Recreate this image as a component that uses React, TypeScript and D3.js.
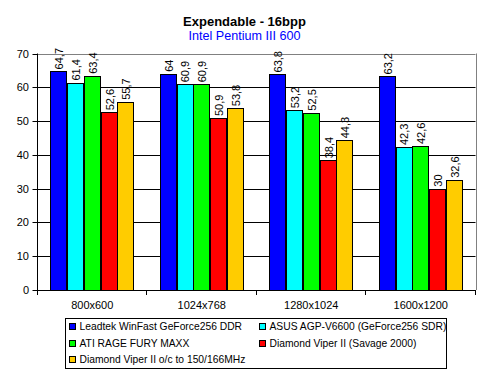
import React from "react";
import * as d3 from "d3";

const categories = ["800x600", "1024x768", "1280x1024", "1600x1200"];
const seriesNames = [
  "Leadtek WinFast GeForce256 DDR",
  "ASUS AGP-V6600 (GeForce256 SDR)",
  "ATI RAGE FURY MAXX",
  "Diamond Viper II (Savage 2000)",
  "Diamond Viper II o/c to 150/166MHz",
];
const leadtek = [64.7, 64, 63.8, 63.2];
const asus = [61.4, 60.9, 53.2, 42.3];
const ati = [63.4, 60.9, 52.5, 42.6];
const viper = [52.6, 50.9, 38.4, 30];
const viperOc = [55.7, 53.8, 44.3, 32.6];
const seriesValues = [leadtek, asus, ati, viper, viperOc];
const colors = ["#0000FF", "#00FFFF", "#00FF00", "#FF0000", "#FFCC00"];
const yTicks = [0, 10, 20, 30, 40, 50, 60, 70];

const W = 490;
const H = 377;
const left = 37.5;
const right = 475.5;
const top = 53.5;
const bottom = 290;
const FONT = "'Liberation Sans', Arial, sans-serif";

export default function App() {
  const x = d3.scaleBand<string>().domain(categories).range([left, right]).padding(0);
  const xs = d3
    .scaleBand<number>()
    .domain(d3.range(seriesNames.length))
    .range([0, x.bandwidth()])
    .paddingInner(0)
    .paddingOuter(0.76);
  const y = d3.scaleLinear().domain([0, 70]).range([bottom, top]);
  const fmt = (v: number) => String(v).replace(".", ",");

  const legendItems = seriesNames.map((n, i) => ({
    name: n,
    color: colors[i],
    col: i % 2,
    row: Math.floor(i / 2),
  }));

  return (
    <svg
      width={W}
      height={H}
      style={{ position: "absolute", left: 0, top: 0, background: "#fff" }}
      fontFamily={FONT}
    >
      <rect x={0} y={0} width={W} height={H} fill="#fff" />
      <text x={244.5} y={26} textAnchor="middle" fontSize={13} fontWeight="bold" fill="#000">
        Expendable - 16bpp
      </text>
      <text x={244.5} y={40} textAnchor="middle" fontSize={12.6} fill="#0000FF">
        Intel Pentium III 600
      </text>

      {/* gridlines */}
      {yTicks
        .filter((t) => t > 0 && t < 70)
        .map((t) => (
          <line key={t} x1={left} x2={right} y1={Math.round(y(t)) + 0.5} y2={Math.round(y(t)) + 0.5} stroke="#000" />
        ))}
      {/* plot border top/right */}
      <line x1={left} x2={right} y1={Math.round(top) + 0.5} y2={Math.round(top) + 0.5} stroke="#808080" />
      <line x1={Math.round(right) + 0.5} x2={Math.round(right) + 0.5} y1={top} y2={bottom} stroke="#808080" />

      {/* bars */}
      {categories.map((c, ci) =>
        seriesValues.map((vals, si) => {
          const bx = (x(c) as number) + (xs(si) as number);
          const bw = xs.bandwidth();
          const yt = y(vals[ci]);
          return (
            <g key={c + si}>
              <rect
                x={Math.round(bx) + 0.5}
                y={Math.round(yt) + 0.5}
                width={Math.round(bw) - 1}
                height={Math.round(bottom) - Math.round(yt)}
                fill={colors[si]}
                stroke="#000"
                strokeWidth={1}
              />
              <text
                transform={`translate(${bx + bw / 2 + 0.5},${yt - 2}) rotate(-90)`}
                fontSize={11}
                dominantBaseline="central"
                fill="#000"
              >
                {fmt(vals[ci])}
              </text>
            </g>
          );
        })
      )}

      {/* y axis */}
      <line x1={Math.round(left) - 0.5} x2={Math.round(left) - 0.5} y1={top} y2={bottom} stroke="#000" />
      {yTicks.map((t) => (
        <g key={t}>
          <line
            x1={left - 5}
            x2={left}
            y1={Math.round(y(t)) + 0.5}
            y2={Math.round(y(t)) + 0.5}
            stroke="#000"
          />
          <text x={29} y={y(t)} textAnchor="end" dominantBaseline="central" fontSize={11} fill="#000">
            {t}
          </text>
        </g>
      ))}

      {/* x axis */}
      <line x1={left - 1} x2={right} y1={Math.round(bottom) + 0.5} y2={Math.round(bottom) + 0.5} stroke="#000" />
      {[...categories.map((c) => x(c) as number), right].map((px, i) => (
        <line
          key={i}
          x1={Math.round(px) - 0.5}
          x2={Math.round(px) - 0.5}
          y1={bottom}
          y2={bottom + 5}
          stroke="#000"
        />
      ))}
      {categories.map((c) => (
        <text
          key={c}
          x={(x(c) as number) + x.bandwidth() / 2}
          y={309}
          textAnchor="middle"
          fontSize={11}
          fill="#000"
        >
          {c}
        </text>
      ))}

      {/* legend */}
      <rect x={65.5} y={318.5} width={381} height={50} fill="#fff" stroke="#000" />
      {legendItems.map((it) => {
        const lx = it.col === 0 ? 69.5 : 259.5;
        const cy = 326.7 + it.row * 16.4;
        return (
          <g key={it.name}>
            <rect x={lx} y={Math.round(cy - 3.5) + 0.5} width={6} height={6} fill={it.color} stroke="#000" />
            <text x={lx + 10} y={cy} dominantBaseline="central" fontSize={10.3} fill="#000">
              {it.name}
            </text>
          </g>
        );
      })}
    </svg>
  );
}
